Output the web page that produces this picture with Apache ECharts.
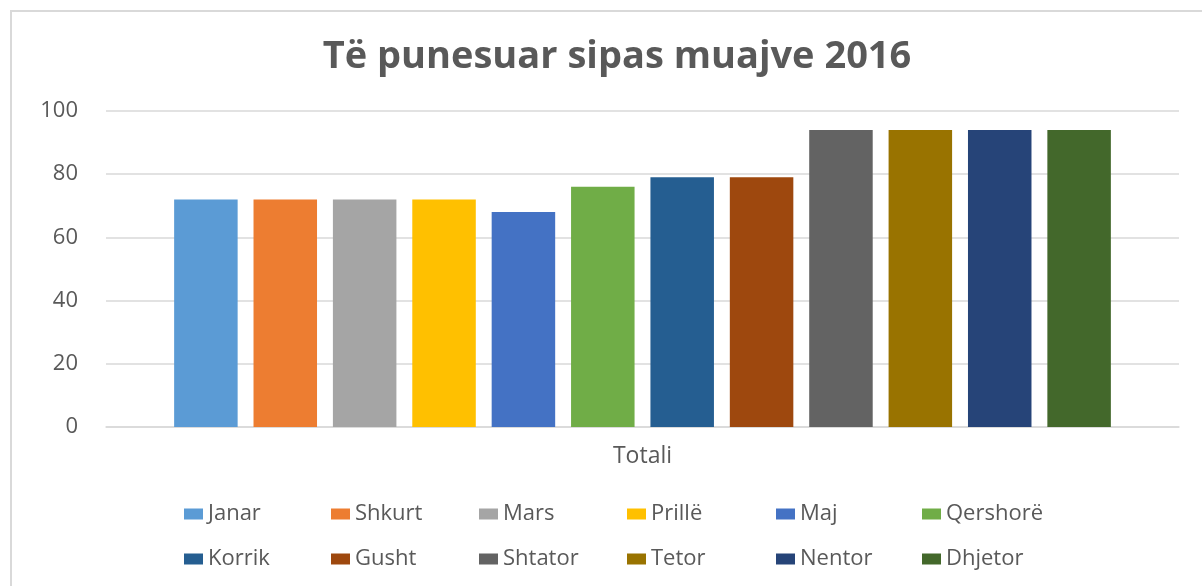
<!DOCTYPE html>
<html lang="sq">
<head>
    <meta charset="UTF-8">
    <title>Të punesuar sipas muajve 2016</title>
    <script src="https://cdn.jsdelivr.net/npm/echarts@6/dist/echarts.min.js"></script>
    <style>
        html, body { margin: 0; padding: 0; background: #fff; overflow: hidden; }
        #frame { position: absolute; left: 10px; top: 10px; width: 1200px; height: 580px; border: 2px solid #d9d9d9; }
        #chart { position: absolute; left: 0; top: 0; width: 1202px; height: 586px; }
    </style>
</head>
<body>
<div id="frame"></div>
<div id="chart"></div>
<script>
    const categories = ['Totali'];
    const months = ['Janar', 'Shkurt', 'Mars', 'Prillë', 'Maj', 'Qershorë',
                    'Korrik', 'Gusht', 'Shtator', 'Tetor', 'Nentor', 'Dhjetor'];
    const values = [72, 72, 72, 72, 68, 76, 79, 79, 94, 94, 94, 94];
    const colors = ['#5B9BD5', '#ED7D31', '#A5A5A5', '#FFC000', '#4472C4', '#70AD47',
                    '#255E91', '#9E480E', '#636363', '#997300', '#264478', '#43682B'];
    const yTicks = [0, 20, 40, 60, 80, 100];

    const textColor = '#595959';
    const font = 'Open Sans';

    // legend: 6 columns, 2 rows (month i and i+6 in the same column)
    const legendX = [179, 326, 474, 622, 771, 917];
    const legends = legendX.map(function (x, i) {
        return {
            orient: 'vertical',
            left: x,
            top: 496,
            itemWidth: 19,
            itemHeight: 11,
            itemGap: 19,
            icon: 'rect',
            data: [months[i], months[i + 6]],
            textStyle: { color: textColor, fontSize: 22, fontFamily: font, lineHeight: 26 }
        };
    });

    const series = months.map(function (m, i) {
        return {
            name: m,
            type: 'bar',
            data: [values[i]],
            barGap: '25%',
            barCategoryGap: '12.7%',
            itemStyle: { color: colors[i] }
        };
    });

    const option = {
        animation: false,
        color: colors,
        title: {
            text: 'Të punesuar sipas muajve 2016',
            left: 612,
            textAlign: 'center',
            top: 33,
            textStyle: { color: textColor, fontSize: 38, fontWeight: 'bold', fontFamily: font }
        },
        legend: legends,
        grid: { left: 106, right: 23, top: 111, bottom: 159, containLabel: false },
        xAxis: {
            type: 'category',
            data: categories,
            axisLine: { lineStyle: { color: '#d9d9d9', width: 1.5 } },
            axisTick: { show: false },
            axisLabel: { color: textColor, fontSize: 23, fontFamily: font, margin: 18 }
        },
        yAxis: {
            type: 'value',
            min: yTicks[0],
            max: yTicks[yTicks.length - 1],
            interval: yTicks[1] - yTicks[0],
            axisLine: { show: false },
            axisTick: { show: false },
            axisLabel: { color: textColor, fontSize: 22, fontFamily: font, margin: 28 },
            splitLine: { lineStyle: { color: '#d9d9d9', width: 1.5 } }
        },
        series: series
    };

    const chart = echarts.init(document.getElementById('chart'));
    chart.setOption(option);
</script>
</body>
</html>
